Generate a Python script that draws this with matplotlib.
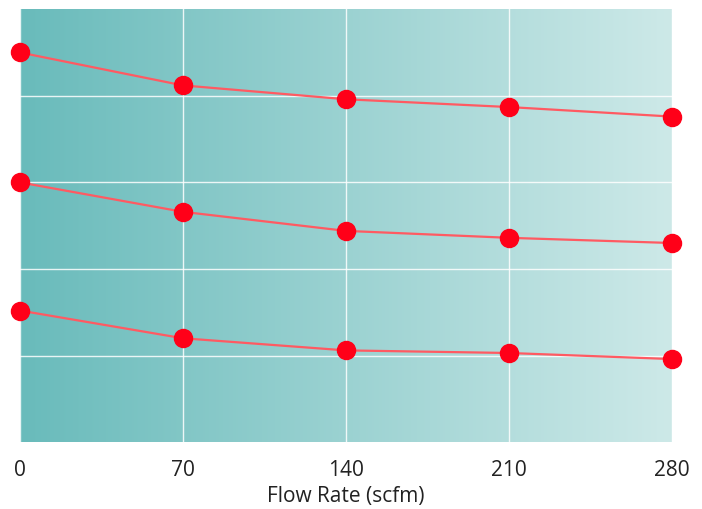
import numpy as np
import matplotlib.pyplot as plt
from matplotlib.colors import LinearSegmentedColormap

plt.rcParams['font.family'] = ['Open Sans', 'DejaVu Sans']

# data (y in grid units, no labels shown)
flow = [0, 70, 140, 210, 280]
series_top = [4.50, 4.12, 3.96, 3.87, 3.76]
series_mid = [3.00, 2.66, 2.44, 2.36, 2.30]
series_low = [1.52, 1.20, 1.06, 1.03, 0.96]
x_ticks = [0, 70, 140, 210, 280]
y_ticks = [1, 2, 3, 4]

fig = plt.figure(figsize=(7.02, 5.10), dpi=100)
ax = fig.add_axes([0.0285, 0.131, 0.9287, 0.849])

# gradient background
cmap = LinearSegmentedColormap.from_list('bg', ['#69bbbb', '#cde9e8'])
grad = np.linspace(0, 1, 256).reshape(1, -1)
ax.imshow(grad, cmap=cmap, aspect='auto', extent=[0, 280, 0, 5], zorder=0)

ax.set_xlim(0, 280)
ax.set_ylim(0, 5)
ax.set_xticks(x_ticks)
ax.set_yticks(y_ticks)
ax.set_yticklabels([])
ax.grid(True, color='white', linewidth=1, alpha=0.85, zorder=1)
ax.tick_params(length=0, labelsize=15, colors='#222222', pad=12)
for s in ax.spines.values():
    s.set_visible(False)

for ys in [series_top, series_mid, series_low]:
    ax.plot(flow, ys, color='#ff5a62', linewidth=1.6, zorder=3, clip_on=False)
    ax.plot(flow, ys, 'o', color='#ff0018', markersize=13, zorder=4, clip_on=False)

ax.set_xlabel('Flow Rate (scfm)', fontsize=15, color='#222222', labelpad=4)

fig.savefig('out.png', dpi=100)
